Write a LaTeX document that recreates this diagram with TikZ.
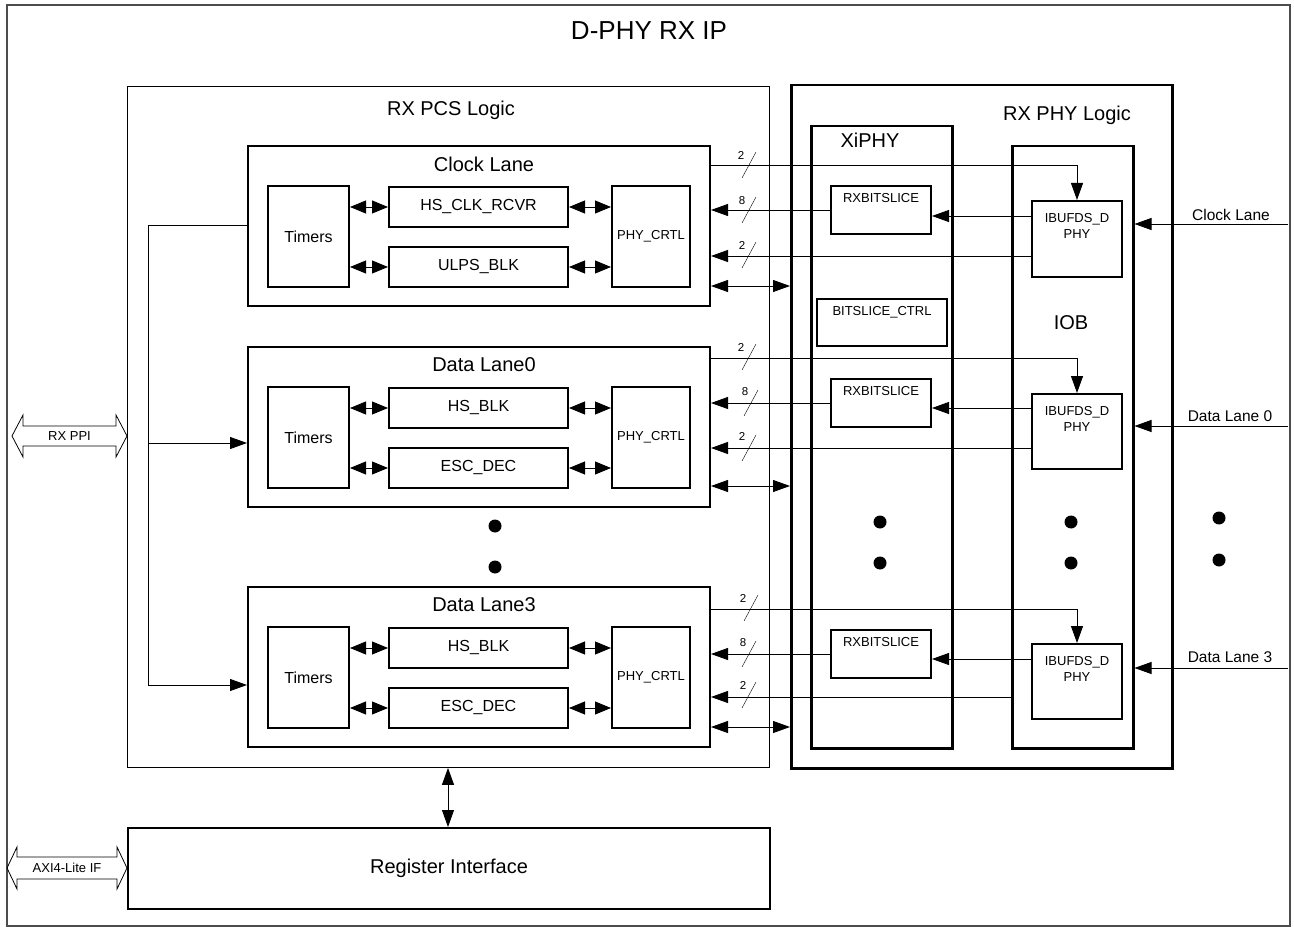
\documentclass[tikz,border=0pt]{standalone}
\usepackage{fontspec}
\setmainfont{Liberation Sans}
\usetikzlibrary{arrows.meta}
\usetikzlibrary{calc}

\tikzset{
  box/.style={draw, line width=2pt, inner sep=0pt, anchor=north west},
  frame/.style={draw, line width=2.5pt, inner sep=0pt, anchor=north west},
  bus/.style={-{Triangle[length=17pt,width=12pt]}, line width=0.9pt},
  bibus/.style={{Triangle[length=17pt,width=12pt]}-{Triangle[length=17pt,width=12pt]}, line width=0.9pt},
  dbl/.style={{Triangle[length=16pt,width=13pt]}-{Triangle[length=16pt,width=13pt]}, line width=0.9pt},
  big/.style={font=\fontsize{20}{22}\selectfont},
  mid/.style={font=\fontsize{16}{18}\selectfont},
  sm/.style={font=\fontsize{13}{16}\selectfont, align=center},
  num/.style={font=\fontsize{11.5}{12}\selectfont, inner sep=0pt}
}

\begin{document}
\begin{tikzpicture}[x=1pt, y=-1pt]
  \useasboundingbox (0,0) rectangle (1294,928);
  \draw[line width=1.5pt, black!70] (7,5) rectangle (1290,926);
  \node[font=\fontsize{26}{28}\selectfont] (title) at (649,31) {D-PHY RX IP};

  % PCS side
  \node[draw, line width=0.9pt, inner sep=0pt, anchor=north west, minimum width=642pt, minimum height=681pt] (pcs) at (127,86) {};
  \node[big] (pcs-t) at (451,110) {RX PCS Logic};

  % clock lane
  \node[box, minimum width=462pt, minimum height=160pt] (clk) at (247,145) {};
  \node[big] (clk-t) at (484,164) {Clock Lane};
  \node[box, minimum width=81pt, minimum height=101pt, mid] (clk-tm) at (267,185) {Timers};
  \node[box, minimum width=179pt, minimum height=40pt, mid] (clk-hs) at (388,186) {HS\_CLK\_RCVR};
  \node[box, minimum width=179pt, minimum height=40pt, mid] (clk-lp) at (388,246) {ULPS\_BLK};
  \node[box, minimum width=78pt, minimum height=101pt, sm] (clk-ph) at (611,185) {PHY\_CRTL};
  \draw[dbl] (clk-tm.east |- clk-hs) -- (clk-hs);
  \draw[dbl] (clk-tm.east |- clk-lp) -- (clk-lp);
  \draw[dbl] (clk-hs) -- (clk-ph.west |- clk-hs);
  \draw[dbl] (clk-lp) -- (clk-ph.west |- clk-lp);

  % data lane 0
  \node[box, minimum width=462pt, minimum height=160pt] (dl0) at (247,346) {};
  \node[big] (dl0-t) at (484,365) {Data Lane0};
  \node[box, minimum width=81pt, minimum height=101pt, mid] (dl0-tm) at (267,386) {Timers};
  \node[box, minimum width=179pt, minimum height=40pt, mid] (dl0-hs) at (388,387) {HS\_BLK};
  \node[box, minimum width=179pt, minimum height=40pt, mid] (dl0-lp) at (388,447) {ESC\_DEC};
  \node[box, minimum width=78pt, minimum height=101pt, sm] (dl0-ph) at (611,386) {PHY\_CRTL};
  \draw[dbl] (dl0-tm.east |- dl0-hs) -- (dl0-hs);
  \draw[dbl] (dl0-tm.east |- dl0-lp) -- (dl0-lp);
  \draw[dbl] (dl0-hs) -- (dl0-ph.west |- dl0-hs);
  \draw[dbl] (dl0-lp) -- (dl0-ph.west |- dl0-lp);

  % data lane 3
  \node[box, minimum width=462pt, minimum height=160pt] (dl3) at (247,586) {};
  \node[big] (dl3-t) at (484,605) {Data Lane3};
  \node[box, minimum width=81pt, minimum height=101pt, mid] (dl3-tm) at (267,626) {Timers};
  \node[box, minimum width=179pt, minimum height=40pt, mid] (dl3-hs) at (388,627) {HS\_BLK};
  \node[box, minimum width=179pt, minimum height=40pt, mid] (dl3-lp) at (388,687) {ESC\_DEC};
  \node[box, minimum width=78pt, minimum height=101pt, sm] (dl3-ph) at (611,626) {PHY\_CRTL};
  \draw[dbl] (dl3-tm.east |- dl3-hs) -- (dl3-hs);
  \draw[dbl] (dl3-tm.east |- dl3-lp) -- (dl3-lp);
  \draw[dbl] (dl3-hs) -- (dl3-ph.west |- dl3-hs);
  \draw[dbl] (dl3-lp) -- (dl3-ph.west |- dl3-lp);

  \fill (495,526) circle (6.5pt);
  \fill (495,567) circle (6.5pt);

  % timer bus on the left
  \draw[bus] (clk.west |- 0,225) -- (148,225) |- (dl3.west |- 0,685);
  \draw[bus] (148,443) -- (dl0.west |- 0,443);

  % PHY side
  \node[frame, minimum width=381pt, minimum height=683pt] (phy) at (790,84) {};
  \node[big] (phy-t) at (1067,115) {RX PHY Logic};
  \node[frame, minimum width=141pt, minimum height=622pt] (xiphy) at (810,125) {};
  \node[big] (xiphy-t) at (870,140) {XiPHY};
  \node[frame, minimum width=121pt, minimum height=602pt] (iob) at (1011,145) {};
  \node[big] (iob-t) at (1071,323) {IOB};

  \node[box, minimum width=130pt, minimum height=47pt] (bsc) at (816,298) {};
  \node[sm] (bsc-t) at ($(bsc.north)+(0,14)$) {BITSLICE\_CTRL};

  \node[box, minimum width=100pt, minimum height=48pt] (rxc) at (830,185) {};
  \node[sm] at ($(rxc.north)+(0,13)$) {RXBITSLICE};
  \node[box, minimum width=90pt, minimum height=76pt] (ibc) at (1031,200) {};
  \node[sm] at ($(ibc.north)+(0,26)$) {IBUFDS\_D\\PHY};

  \node[box, minimum width=100pt, minimum height=48pt] (rx0) at (830,378) {};
  \node[sm] at ($(rx0.north)+(0,13)$) {RXBITSLICE};
  \node[box, minimum width=90pt, minimum height=75pt] (ib0) at (1031,393) {};
  \node[sm] at ($(ib0.north)+(0,26)$) {IBUFDS\_D\\PHY};

  \node[box, minimum width=100pt, minimum height=48pt] (rx3) at (830,629) {};
  \node[sm] at ($(rx3.north)+(0,13)$) {RXBITSLICE};
  \node[box, minimum width=90pt, minimum height=75pt] (ib3) at (1031,643) {};
  \node[sm] at ($(ib3.north)+(0,26)$) {IBUFDS\_D\\PHY};

  \fill (880,522) circle (6.5pt);
  \fill (880,563) circle (6.5pt);
  \fill (1071,522) circle (6.5pt);
  \fill (1071,563) circle (6.5pt);
  \fill (1219,518) circle (6.5pt);
  \fill (1219,560) circle (6.5pt);

  % clock lane links
  \draw[bus] (clk.east |- 0,165) -| (ibc.north);
  \draw[bus] (rxc.west) -- (clk.east |- rxc.west);
  \draw[bus] (ibc.west |- 0,216) -- (rxc.east |- 0,216);
  \draw[bus] (ibc.west |- 0,256) -- (clk.east |- 0,256);
  \draw[bibus] (clk.east |- 0,286) -- (phy.west |- 0,286);
  \draw (742,178) -- (756,152);
  \node[num] at (741,155) {2};
  \draw (742,223) -- (756,197);
  \node[num] at (742,201) {8};
  \draw (742,268) -- (756,242);
  \node[num] at (742,245) {2};

  % data lane 0 links
  \draw[bus] (dl0.east |- 0,358) -| (ib0.north);
  \draw[bus] (rx0.west) -- (dl0.east |- rx0.west);
  \draw[bus] (ib0.west |- 0,408) -- (rx0.east |- 0,408);
  \draw[bus] (ib0.west |- 0,448) -- (dl0.east |- 0,448);
  \draw[bibus] (dl0.east |- 0,486) -- (phy.west |- 0,486);
  \draw (742,370) -- (756,344);
  \node[num] at (741,347) {2};
  \draw (744,416) -- (758,390);
  \node[num] at (745,392) {8};
  \draw (742,461) -- (756,435);
  \node[num] at (742,436) {2};

  % data lane 3 links
  \draw[bus] (dl3.east |- 0,609) -| (ib3.north);
  \draw[bus] (rx3.west) -- (dl3.east |- rx3.west);
  \draw[bus] (ib3.west |- 0,659) -- (rx3.east |- 0,659);
  \draw[bus] (iob.west |- 0,697) -- (dl3.east |- 0,697);
  \draw[bibus] (dl3.east |- 0,727) -- (phy.west |- 0,727);
  \draw (744,621) -- (758,595);
  \node[num] at (743,598) {2};
  \draw (742,667) -- (756,641);
  \node[num] at (743,643) {8};
  \draw (742,708) -- (756,682);
  \node[num] at (743,685) {2};

  % lane inputs
  \coordinate (in-clk) at (1288,224);
  \coordinate (in-dl0) at (1288,426);
  \coordinate (in-dl3) at (1288,668);
  \draw[bus] (in-clk) -- (iob.east |- in-clk);
  \draw[bus] (in-dl0) -- (iob.east |- in-dl0);
  \draw[bus] (in-dl3) -- (iob.east |- in-dl3);
  \node[font=\fontsize{15.5}{17}\selectfont] at (1231,215) {Clock Lane};
  \node[font=\fontsize{15.5}{17}\selectfont] at (1230,416) {Data Lane 0};
  \node[font=\fontsize{15.5}{17}\selectfont] at (1230,657) {Data Lane 3};

  % register interface
  \node[box, minimum width=642pt, minimum height=81pt] (reg) at (127,827) {};
  \node[big] (reg-t) at (reg.center) {Register Interface};
  \draw[bibus] (448,0 |- pcs.south) -- (448,0 |- reg.north);

  % external interfaces
  \draw[line width=0.8pt] (12,436) -- (23,415) -- (23,426) -- (116,426) -- (116,415) -- (127,436)
    -- (116,457) -- (116,446) -- (23,446) -- (23,457) -- cycle;
  \node[sm] (ppi) at (69.5,436) {RX PPI};
  \draw[line width=0.8pt] (7,868) -- (17,847) -- (17,857) -- (117,857) -- (117,847) -- (127,868)
    -- (117,889) -- (117,879) -- (17,879) -- (17,889) -- cycle;
  \node[sm] (axi) at (67,868) {AXI4-Lite IF};
\end{tikzpicture}
\end{document}
